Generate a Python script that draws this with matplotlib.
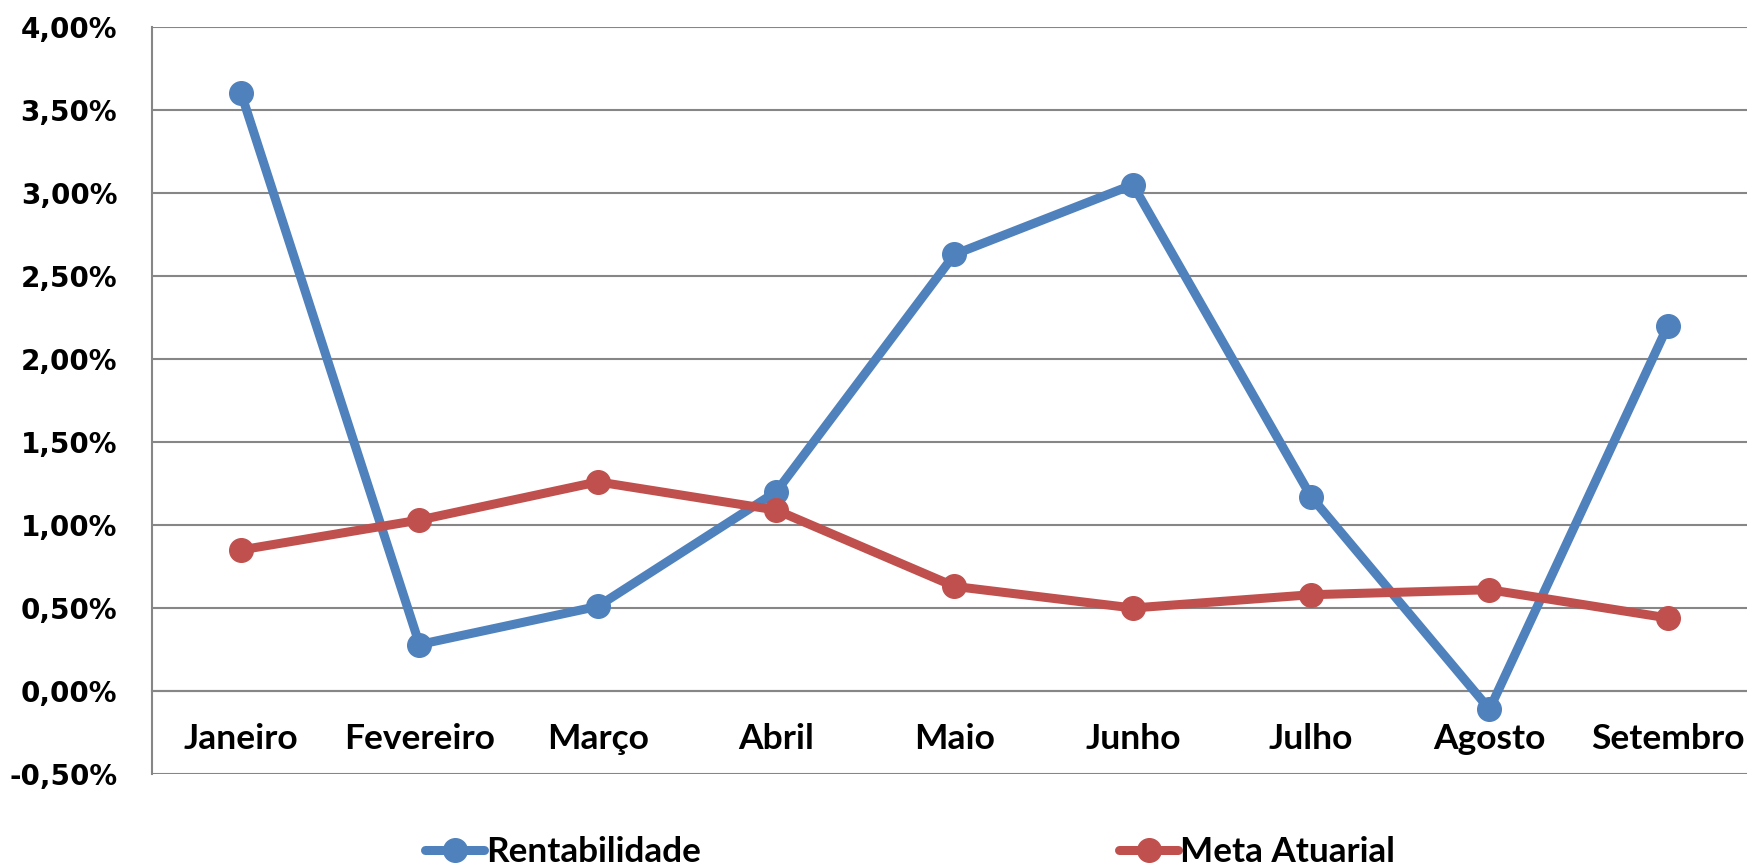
import matplotlib
matplotlib.use("Agg")
import matplotlib.pyplot as plt
from matplotlib.ticker import FuncFormatter, MultipleLocator

categories = ["Janeiro", "Fevereiro", "Março", "Abril", "Maio", "Junho", "Julho", "Agosto", "Setembro"]
rentabilidade = [3.60, 0.28, 0.51, 1.20, 2.63, 3.05, 1.17, -0.11, 2.20]
meta_atuarial = [0.85, 1.03, 1.26, 1.09, 0.63, 0.50, 0.58, 0.61, 0.44]
series_names = ["Rentabilidade", "Meta Atuarial"]

W, H = 1747, 865
fig = plt.figure(figsize=(W / 100, H / 100), dpi=100)
left, right, top, bottom = 152, 1757, 27, 774
ax = fig.add_axes([left / W, 1 - bottom / H, (right - left) / W, (bottom - top) / H])

x = list(range(len(categories)))
l1, = ax.plot(x, rentabilidade, color="#4F81BD", lw=6.5, marker="o", ms=17,
              solid_capstyle="round", zorder=3, clip_on=False)
l2, = ax.plot(x, meta_atuarial, color="#C0504D", lw=6.5, marker="o", ms=17,
              solid_capstyle="round", zorder=3, clip_on=False)

ax.set_xlim(-0.5, len(categories) - 0.5)
ax.set_ylim(-0.5, 4.0)
ax.yaxis.set_major_locator(MultipleLocator(0.5))
ax.yaxis.set_major_formatter(FuncFormatter(lambda v, p: f"{v:.2f}%".replace(".", ",")))
ax.grid(axis="y", color="#868686", lw=1.5, zorder=0)
ax.set_axisbelow(True)

for s in ["top", "right"]:
    ax.spines[s].set_visible(False)
ax.spines["left"].set_color("#868686")
ax.spines["left"].set_linewidth(1.5)
ax.spines["bottom"].set_position(("data", 0))
ax.spines["bottom"].set_color("#868686")
ax.spines["bottom"].set_linewidth(1.5)

ax.set_xticks(x)
ax.set_xticklabels(categories, fontfamily="Lato", fontweight="bold", fontsize=25.5)
ax.tick_params(axis="x", length=0, pad=23)
ax.tick_params(axis="y", length=0, pad=25)
for t in ax.get_yticklabels():
    t.set_fontfamily("DejaVu Sans")
    t.set_fontweight("bold")
    t.set_fontsize(20)

fig.legend([l1, l2], series_names, loc="lower center", bbox_to_anchor=(0.521, -0.04),
           ncol=2, frameon=False, handlelength=1.68, handletextpad=0.05, columnspacing=11.9,
           prop={"family": "Lato", "weight": "bold", "size": 25.3})

fig.savefig("out.png", dpi=100)
